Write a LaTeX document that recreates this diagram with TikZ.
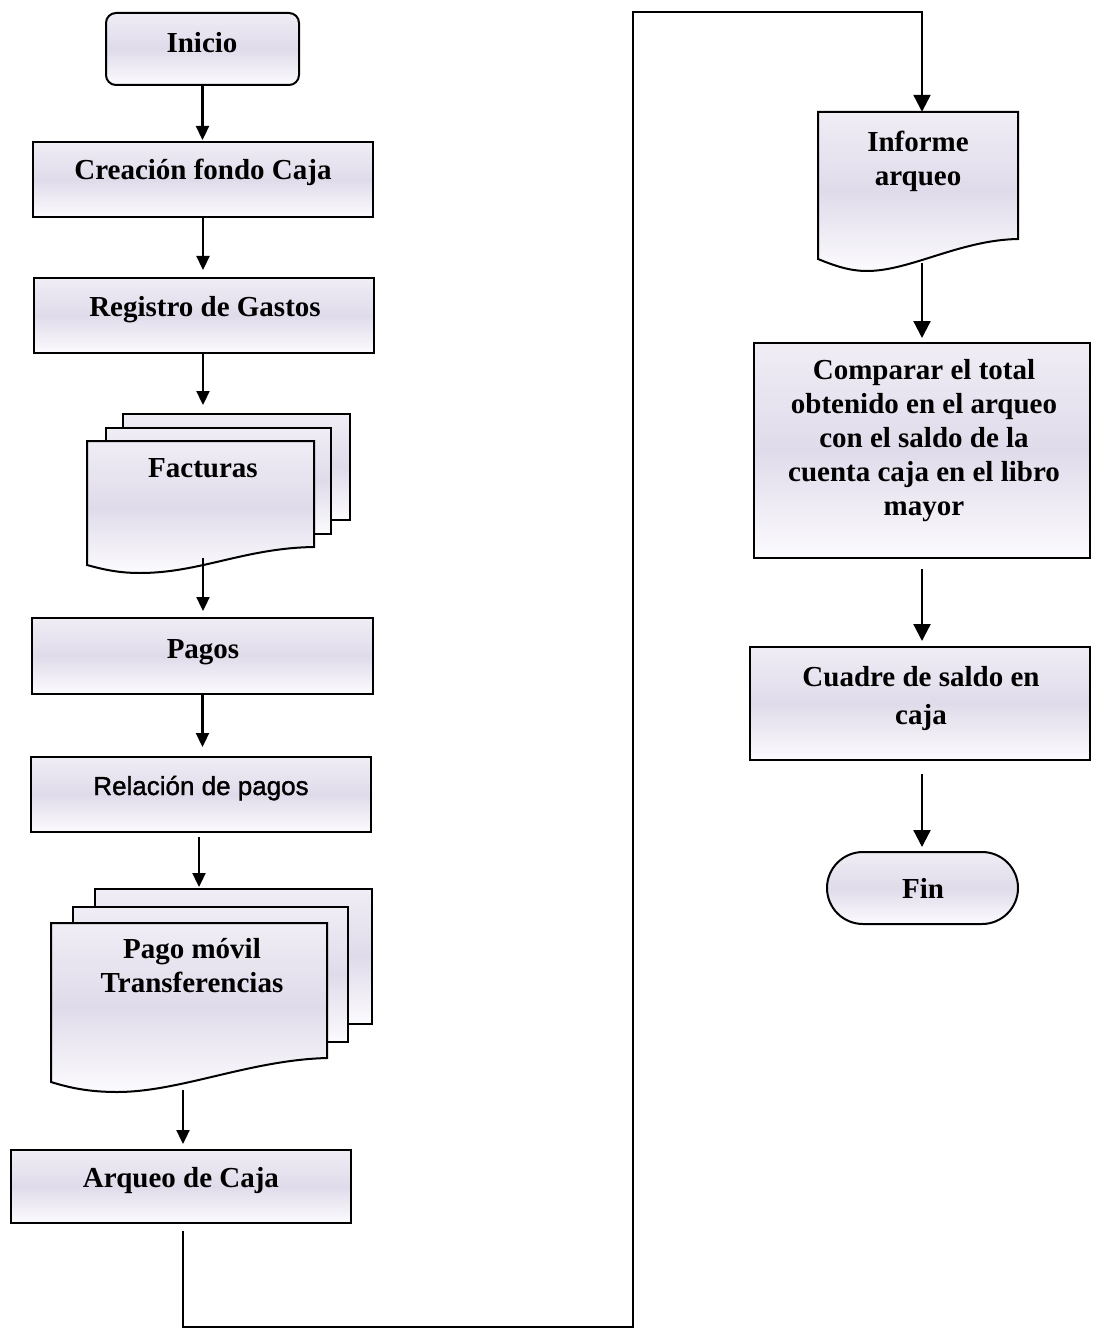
\documentclass[tikz,border=0pt]{standalone}
\usepackage{fontspec}
\setmainfont{Liberation Serif}
\newfontfamily\relfont{Liberation Sans}[FakeBold=1.3]
\usetikzlibrary{arrows.meta}
\definecolor{lavtop}{RGB}{240,237,245}
\definecolor{lavmid}{RGB}{224,219,234}
\definecolor{lavbot}{RGB}{252,251,254}
\begin{document}
\begin{tikzpicture}[x=1pt,y=-1pt,
  box/.style={rectangle, draw=black, line width=2pt, top color=lavtop, bottom color=lavbot, middle color=lavmid, inner sep=0pt},
  page/.style={draw=black, line width=2pt, top color=lavtop, bottom color=lavbot, middle color=lavmid},
  ghost/.style={rectangle, inner sep=0pt},
  lbl/.style={font=\bfseries\fontsize{29}{34}\selectfont, inner sep=0pt, align=center},
  conn/.style={line width=2.3pt, -{Triangle[length=14pt,width=13pt]}},
  connR/.style={line width=2.3pt, -{Triangle[length=17pt,width=17pt]}}]
\useasboundingbox (0,0) rectangle (1095,1332);

% ---------- left column ----------
\node[box, rounded corners=10pt, minimum width=193pt, minimum height=72pt] (inicio) at (202.5,49) {};
\node[lbl, anchor=base] (tinicio) at (202,53) {Inicio};

\node[box, minimum width=340pt, minimum height=75pt] (creacion) at (203,179.5) {};
\node[lbl, anchor=base] (tcreacion) at (203,180) {Creación fondo Caja};

\node[box, minimum width=340pt, minimum height=75pt] (registro) at (204,315.5) {};
\node[lbl, anchor=base] (tregistro) at (205,316) {Registro de Gastos};

% Facturas (multi-document)
\node[box, minimum width=227pt, minimum height=106pt] (factC) at (236.5,467) {};
\node[box, minimum width=225pt, minimum height=106pt] (factB) at (218.5,481) {};
\path[page] (87,441) -- (314,441) -- (314,547)
   .. controls (245,548) and (200,573) .. (140,573)
   .. controls (120,573) and (105,570) .. (87,565) -- cycle;
\node[ghost, minimum width=227pt, minimum height=106pt] (factA) at (200.5,494) {};
\node[lbl, anchor=base] (tfact) at (203,477) {Facturas};
\coordinate (factout) at (203,558);

\node[box, minimum width=341pt, minimum height=76pt] (pagos) at (202.5,656) {};
\node[lbl, anchor=base] (tpagos) at (203,658) {Pagos};

\node[box, minimum width=340pt, minimum height=75pt] (relacion) at (201,794.5) {};
\node[inner sep=0pt, anchor=base, font=\relfont\fontsize{26}{30}\selectfont] (trelacion) at (201,795) {Relación de pagos};

% Pago movil (multi-document)
\node[box, minimum width=277pt, minimum height=135pt] (pagoC) at (233.5,956.5) {};
\node[box, minimum width=275pt, minimum height=135pt] (pagoB) at (210.5,974.5) {};
\path[page] (51,923) -- (327,923) -- (327,1058)
   .. controls (250,1060) and (180,1092) .. (117,1092)
   .. controls (90,1092) and (70,1088) .. (51,1082) -- cycle;
\node[ghost, minimum width=276pt, minimum height=135pt] (pagoA) at (189,990.5) {};
\node[lbl] (tpago) at (192,966) {Pago móvil\\Transferencias};
\coordinate (pagoout) at (183,1090);

\node[box, minimum width=340pt, minimum height=73pt] (arqueo) at (181,1186.5) {};
\node[lbl, anchor=base] (tarqueo) at (181,1187) {Arqueo de Caja};

% ---------- right column ----------
\path[page] (818,112) -- (1018,112) -- (1018,239)
   .. controls (960,240) and (910,271) .. (867,271)
   .. controls (850,271) and (835,266) .. (818,259) -- cycle;
\node[ghost, minimum width=200pt, minimum height=127pt] (informe) at (918,175.5) {};
\node[lbl] (tinforme) at (918,161.5) {Informe\\arqueo};
\coordinate (infout) at (922,263);

\node[box, minimum width=336pt, minimum height=215pt] (comparar) at (922,450.5) {};
\node[lbl] (tcomparar) at (924,441) {Comparar el total\\obtenido en el arqueo\\con el saldo de la\\cuenta caja en el libro\\mayor};

\node[box, minimum width=340pt, minimum height=113pt] (cuadre) at (920,703.5) {};
\node[lbl, font=\bfseries\fontsize{29}{38}\selectfont] (tcuadre) at (921,699) {Cuadre de saldo en\\caja};

\node[box, rounded corners=36pt, minimum width=191pt, minimum height=72pt] (fin) at (922.5,888) {};
\node[lbl, anchor=base] (tfin) at (923,898) {Fin};

% ---------- connectors ----------
\coordinate (loopA) at (633,1327);
\coordinate (loopB) at (633,12);

\draw[conn, shorten >=1pt] (inicio.south) -- (inicio.south |- creacion.north);
\draw[conn, shorten >=7pt] (creacion.south) -- (creacion.south |- registro.north);
\draw[conn, shorten >=8pt] ([xshift=-1pt]registro.south) -- ([xshift=-1pt]registro.south |- factC.north);
\draw[conn, shorten >=6pt] (factout) -- (factout |- pagos.north);
\draw[conn, shorten >=9pt] (pagos.south) -- (pagos.south |- relacion.north);
\draw[conn, shorten <=4pt, shorten >=1pt] ([xshift=-2pt]relacion.south) -- ([xshift=-2pt]relacion.south |- pagoC.north);
\draw[conn, shorten >=5pt] (pagoout) -- (pagoout |- arqueo.north);

\draw[connR] ([xshift=2pt,yshift=-7pt]arqueo.south) |- (loopA) -- (loopB) -| ([xshift=4pt]informe.north);

\draw[connR, shorten >=4pt] (infout) -- (infout |- comparar.north);
\draw[connR, shorten <=10pt, shorten >=5pt] (comparar.south) -- (comparar.south |- cuadre.north);
\draw[connR, shorten <=13pt, shorten >=4pt] ([xshift=2pt]cuadre.south) -- ([xshift=2pt]cuadre.south |- fin.north);
\end{tikzpicture}
\end{document}
